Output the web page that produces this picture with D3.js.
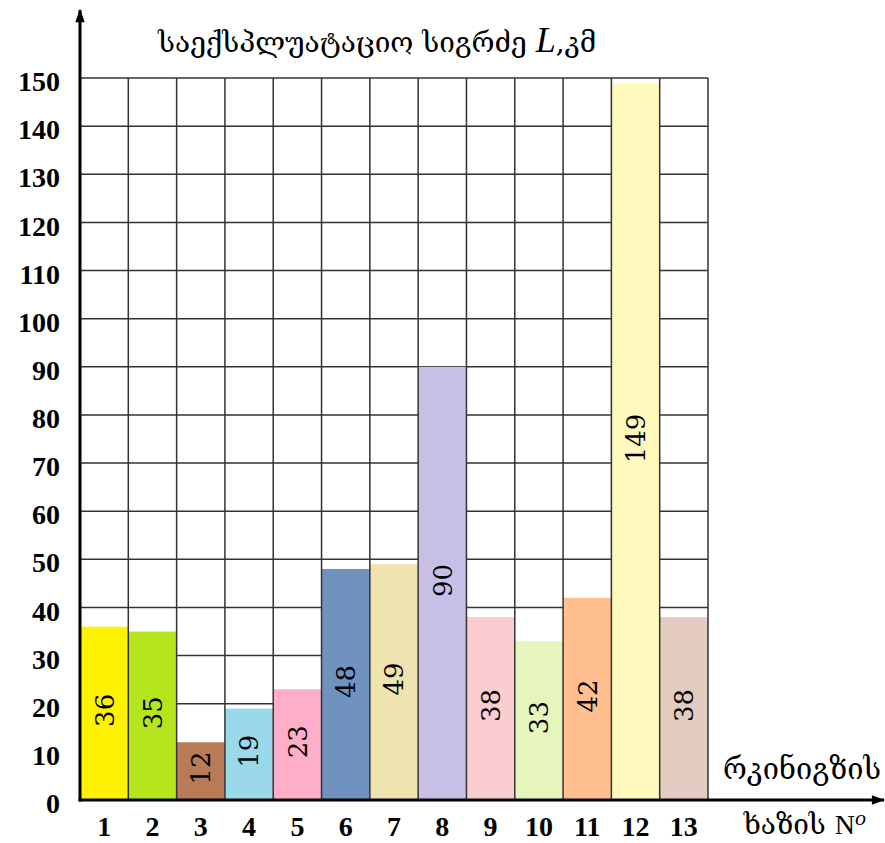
<!DOCTYPE html>
<html>
<head>
<meta charset="utf-8">
<script src="https://cdn.jsdelivr.net/npm/d3@7"></script>
<style>
  html, body { margin: 0; padding: 0; background: #fff; }
  svg { display: block; }
  .num { font-family: "Liberation Serif", "DejaVu Serif", serif; }
  .val { font-family: "DejaVu Serif", "Liberation Serif", serif; }
  .geo { font-family: "DejaVu Serif", "DejaVu Sans", serif; }
</style>
</head>
<body>
<svg id="chart" width="885" height="843"></svg>
<script>
// Railway line numbers and operational lengths (km)
const lines = ["1","2","3","4","5","6","7","8","9","10","11","12","13"];
const lengths = [36, 35, 12, 19, 23, 48, 49, 90, 38, 33, 42, 149, 38];
const barColors = ["#fff200","#b5e61d","#b97a57","#99d9ea","#ffaec9","#7092be",
                   "#efe4b0","#c8bfe7","#facdd0","#e6f5bc","#ffbf8f","#fff9be","#e2cbc0"];
const yTicks = [0,10,20,30,40,50,60,70,80,90,100,110,120,130,140,150];

const svg = d3.select("#chart");
const x0 = 80, x1 = 708, yBottom = 800, yTop = 78;

const x = d3.scaleBand().domain(lines).range([x0, x1]).padding(0);
const y = d3.scaleLinear().domain([0, 150]).range([yBottom, yTop]);

// horizontal grid
svg.append("g").selectAll("line").data(yTicks.filter(d => d > 0)).join("line")
  .attr("x1", x0).attr("x2", x1)
  .attr("y1", d => y(d)).attr("y2", d => y(d))
  .attr("stroke", "#333").attr("stroke-width", 1.5);

// bars
svg.append("g").selectAll("rect").data(lengths).join("rect")
  .attr("x", (d, i) => x(lines[i]))
  .attr("y", d => y(d))
  .attr("width", x.bandwidth())
  .attr("height", d => yBottom - y(d))
  .attr("fill", (d, i) => barColors[i]);

// vertical grid on top of bars
const edges = lines.map(l => x(l)).concat([x1]);
svg.append("g").selectAll("line").data(edges.slice(1)).join("line")
  .attr("x1", d => d).attr("x2", d => d)
  .attr("y1", yTop).attr("y2", yBottom)
  .attr("stroke", "#333").attr("stroke-width", 1.5);

// value labels, rotated inside bars
svg.append("g").selectAll("text").data(lengths).join("text")
  .attr("class", "val")
  .attr("transform", (d, i) => {
    const cx = x(lines[i]) + x.bandwidth() / 2;
    const cy = (y(d) + yBottom) / 2 - 3;
    return `translate(${cx},${cy}) rotate(-90)`;
  })
  .attr("text-anchor", "middle")
  .attr("dy", "0.36em")
  .style("font-size", "26px")
  .attr("fill", "#000")
  .text(d => d);

// axes with arrows
svg.append("defs").append("marker")
  .attr("id", "arrow").attr("viewBox", "0 0 10 10")
  .attr("refX", 9).attr("refY", 5)
  .attr("markerWidth", 6).attr("markerHeight", 4.5)
  .attr("markerUnits", "strokeWidth")
  .attr("orient", "auto")
  .append("path").attr("d", "M0,1.5 L10,5 L0,8.5 Z").attr("fill", "#000");

svg.append("line")
  .attr("x1", x0).attr("y1", yBottom + 1.5).attr("x2", x0).attr("y2", 10)
  .attr("stroke", "#000").attr("stroke-width", 3)
  .attr("marker-end", "url(#arrow)");
svg.append("line")
  .attr("x1", x0 - 1.5).attr("y1", yBottom).attr("x2", 884).attr("y2", yBottom)
  .attr("stroke", "#000").attr("stroke-width", 3)
  .attr("marker-end", "url(#arrow)");

// y tick labels
const yAxis = d3.axisLeft(y).tickValues(yTicks).tickSize(0).tickPadding(0);
const gy = svg.append("g").attr("transform", "translate(60,0)").call(yAxis);
gy.attr("font-family", null).attr("font-size", null);
gy.select(".domain").remove();
gy.selectAll("text").attr("class", "num")
  .style("font-size", "28px").style("font-weight", "bold")
  .attr("fill", "#000").attr("dy", "0.45em");

// x tick labels
const xAxis = d3.axisBottom(x).tickSize(0).tickPadding(0);
const gx = svg.append("g").attr("transform", "translate(0,836)").call(xAxis);
gx.attr("font-family", null).attr("font-size", null);
gx.select(".domain").remove();
gx.selectAll("text").attr("class", "num")
  .style("font-size", "28px").style("font-weight", "bold")
  .attr("fill", "#000").attr("dy", 0);

// y axis title
const title = svg.append("text").attr("class", "geo").attr("x", 158).attr("y", 52)
  .style("font-size", "28px").attr("fill", "#000");
title.append("tspan").text("საექსპლუატაციო სიგრძე ");
title.append("tspan").attr("class", "num").style("font-style", "italic")
  .style("font-size", "36px").text("L");
title.append("tspan").text(",კმ");

// x axis title
svg.append("text").attr("class", "geo").attr("x", 881).attr("y", 779)
  .attr("text-anchor", "end").style("font-size", "29px").attr("fill", "#000")
  .text("რკინიგზის");
const xt = svg.append("text").attr("class", "geo").attr("x", 866).attr("y", 834)
  .attr("text-anchor", "end").style("font-size", "28px").attr("fill", "#000");
xt.append("tspan").text("ხაზის ");
xt.append("tspan").attr("class", "num").text("N");
xt.append("tspan").attr("class", "num").style("font-style", "italic")
  .style("font-size", "22px").attr("dy", -9).text("o");
</script>
</body>
</html>
